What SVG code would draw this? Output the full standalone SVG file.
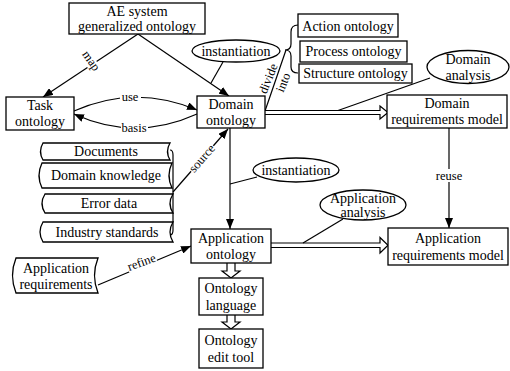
<svg xmlns="http://www.w3.org/2000/svg" width="510" height="371" viewBox="0 0 510 371" font-family="'Liberation Serif', 'Times New Roman', 'DejaVu Serif', serif">
<defs>
<style>
text{font-family:'Liberation Serif','Times New Roman','DejaVu Serif',serif;font-size:14px;fill:#000;text-anchor:middle}
.lbl{font-size:12.5px}
.box{fill:#fff;stroke:#000;stroke-width:1.3}
.ln{fill:none;stroke:#000;stroke-width:1.2}
.bg{fill:#fff;stroke:none}
.hol{fill:#fff;stroke:#000;stroke-width:1.2;stroke-linejoin:miter}
</style>
<marker id="ah" viewBox="0 0 10 8" refX="10" refY="4" markerWidth="10" markerHeight="8" markerUnits="userSpaceOnUse" orient="auto">
<path d="M0,0 L10,4 L0,8 Z" fill="#000"/>
</marker>
</defs>
<rect width="510" height="371" fill="#fff"/>

<g id="connectors">
<line class="ln" x1="138" y1="34" x2="43" y2="97" marker-end="url(#ah)"/>
<line class="ln" x1="138" y1="34" x2="229" y2="96" marker-end="url(#ah)"/>
<path class="ln" d="M74,111 Q135,84 197,110" marker-end="url(#ah)"/>
<path class="ln" d="M197,114 Q135,142 74,114" marker-end="url(#ah)"/>
<line class="ln" x1="265" y1="111" x2="286" y2="50"/>
<path class="ln" d="M298,25 Q291,25 291,32 L291,44 Q291,50 285,50 Q291,50 291,56 L291,67 Q291,73 298,73"/>
<path class="hol" d="M265,110.5 L380,110.5 L380,106 L388,112.5 L380,119 L380,114.5 L265,114.5"/>
<line class="ln" x1="430" y1="78" x2="338" y2="110.5"/>
<line class="ln" x1="223" y1="62" x2="211" y2="83"/>
<line class="ln" x1="449" y1="128" x2="449" y2="228" marker-end="url(#ah)"/>
<line class="ln" x1="230" y1="128" x2="230" y2="229" marker-end="url(#ah)"/>
<line class="ln" x1="173" y1="192" x2="228" y2="129" marker-end="url(#ah)"/>
<path class="ln" d="M170,150 Q173,150 173,155 L173,230 Q173,235 170,235"/>
<line class="ln" x1="257" y1="177" x2="230" y2="184"/>
<line class="ln" x1="98" y1="285" x2="191" y2="246" marker-end="url(#ah)"/>
<path class="hol" d="M271,243 L380,243 L380,237.5 L388,245.3 L380,253 L380,247.5 L271,247.5"/>
<line class="ln" x1="343" y1="219" x2="303" y2="243"/>
<path class="hol" d="M227,263 L227,271 L222,271 L231,278 L240,271 L235,271 L235,263"/>
<path class="hol" d="M227,315 L227,322 L222,322 L231,329 L240,322 L235,322 L235,315"/>
<rect class="bg" x="120" y="91" width="21" height="12"/>
<text class="lbl" x="130" y="101">use</text>
<rect class="bg" x="121" y="122" width="27" height="12"/>
<text class="lbl" x="134" y="132">basis</text>
<g transform="translate(88,63) rotate(55)"><rect class="bg" x="-11" y="-8" width="22" height="11"/><text class="lbl" x="0" y="0">map</text></g>
<g transform="translate(205,161) rotate(-49)"><rect class="bg" x="-17" y="-8" width="34" height="11"/><text class="lbl" x="0" y="0">source</text></g>
<g transform="translate(143,266) rotate(-20)"><rect class="bg" x="-15" y="-9" width="30" height="11"/><text class="lbl" x="0" y="0">refine</text></g>
<rect class="bg" x="434" y="169" width="30" height="13"/>
<text class="lbl" x="449" y="180">reuse</text>
<text class="lbl" transform="translate(272,80) rotate(-68)">divide</text>
<text class="lbl" transform="translate(287,84) rotate(-68)">into</text>
</g>

<g id="ae-system">
<rect class="box" x="69" y="3" width="136" height="31"/>
<text x="137" y="16">AE system</text>
<text x="137" y="31">generalized ontology</text>
</g>
<g id="task-ontology">
<rect class="box" x="6" y="97" width="68" height="33"/>
<text x="40" y="110">Task</text>
<text x="40" y="126">ontology</text>
</g>
<g id="domain-ontology">
<rect class="box" x="197" y="96" width="68" height="32"/>
<text x="231" y="109">Domain</text>
<text x="231" y="125">ontology</text>
</g>
<g id="instantiation-1">
<ellipse class="box" cx="236" cy="51" rx="44" ry="11"/>
<text x="236" y="56">instantiation</text>
</g>
<g id="action-ontology">
<rect class="box" x="298" y="14" width="100" height="23"/>
<text x="348" y="31">Action ontology</text>
</g>
<g id="process-ontology">
<rect class="box" x="300" y="41" width="107" height="21"/>
<text x="353.5" y="56">Process ontology</text>
</g>
<g id="structure-ontology">
<rect class="box" x="299" y="64" width="113" height="19"/>
<text x="355.5" y="78">Structure ontology</text>
</g>
<g id="domain-analysis">
<ellipse class="box" cx="468" cy="67" rx="41" ry="16.5"/>
<text x="468" y="64">Domain</text>
<text x="468" y="80">analysis</text>
</g>
<g id="domain-req-model">
<rect class="box" x="387" y="95" width="120" height="33"/>
<text x="447" y="108">Domain</text>
<text x="447" y="124">requirements model</text>
</g>
<g id="documents">
<path class="box" d="M43,143 L170,143 Q165,151.5 170,160 L43,160 Q38,151.5 43,143 Z"/>
<text x="106" y="156">Documents</text>
</g>
<g id="domain-knowledge">
<path class="box" d="M42,163 L172,163 Q166,175.5 172,188 L42,188 Q36,175.5 42,163 Z"/>
<text x="106" y="180">Domain knowledge</text>
</g>
<g id="error-data">
<path class="box" d="M45,194 L173,194 Q167,203.5 173,213 L45,213 Q39,203.5 45,194 Z"/>
<text x="109" y="208">Error data</text>
</g>
<g id="industry-standards">
<path class="box" d="M43,222 L173,222 Q167,232 173,242 L43,242 Q37,232 43,222 Z"/>
<text x="107" y="237">Industry standards</text>
</g>
<g id="instantiation-2">
<ellipse class="box" cx="296" cy="170" rx="43" ry="12"/>
<text x="296" y="175">instantiation</text>
</g>
<g id="application-analysis">
<ellipse class="box" cx="363" cy="205" rx="43" ry="15"/>
<text x="363" y="203">Application</text>
<text x="363" y="217">analysis</text>
</g>
<g id="application-ontology">
<rect class="box" x="191" y="229" width="80" height="34"/>
<text x="231" y="243">Application</text>
<text x="231" y="259">ontology</text>
</g>
<g id="app-req-model">
<rect class="box" x="388" y="228" width="120" height="37"/>
<text x="448" y="243">Application</text>
<text x="448" y="260">requirements model</text>
</g>
<g id="application-requirements">
<path class="box" d="M16,258 L98,258 Q91,275.5 98,293 L16,293 Q9,275.5 16,258 Z"/>
<text x="56" y="273">Application</text>
<text x="56" y="289">requirements</text>
</g>
<g id="ontology-language">
<rect class="box" x="199" y="278" width="64" height="37"/>
<text x="231" y="293">Ontology</text>
<text x="231" y="310">language</text>
</g>
<g id="ontology-edit-tool">
<rect class="box" x="199" y="329" width="64" height="39"/>
<text x="231" y="345">Ontology</text>
<text x="231" y="362">edit tool</text>
</g>
</svg>
